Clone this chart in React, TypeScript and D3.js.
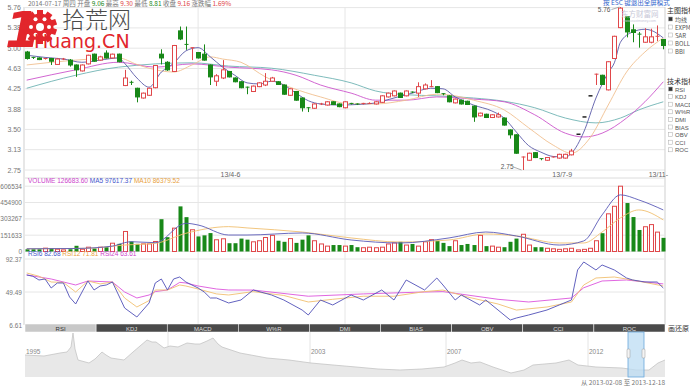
import React from "react";
import * as d3 from "d3";

// ---------- candle data (weekly) ----------
const OPEN = [4.93,4.83,4.82,4.80,4.81,4.70,4.79,4.78,4.69,4.58,4.71,4.89,4.78,4.91,4.82,4.89,4.31,4.37,4.26,4.08,4.13,4.27,4.89,4.74,4.57,5.32,5.07,5.00,4.92,4.89,4.69,4.39,4.45,4.57,4.45,4.38,4.28,4.20,4.29,4.32,4.39,4.38,4.32,4.13,4.20,4.08,3.90,3.89,3.96,3.95,4.01,3.97,3.90,3.98,3.97,3.97,3.97,3.97,4.00,4.10,4.12,4.17,4.12,4.19,4.17,4.25,4.28,4.29,4.16,4.12,3.99,4.04,4.02,3.93,3.75,3.78,3.72,3.73,3.71,3.49,3.40,2.98,2.93,3.07,2.96,2.93,2.98,2.97,2.97,3.03,3.41,3.73,4.12,4.52,4.50,4.23,4.81,5.38,5.58,5.34,5.26,5.11,5.11,5.21,5.16];
const CLOSE = [4.81,4.82,4.79,4.81,4.76,4.80,4.80,4.69,4.60,4.69,4.87,4.76,4.84,4.82,4.89,4.75,4.45,4.36,4.10,4.17,4.26,4.68,4.82,4.60,5.05,5.17,5.06,5.01,4.82,4.78,4.47,4.49,4.60,4.47,4.38,4.27,4.27,4.30,4.36,4.39,4.45,4.33,4.15,4.25,4.04,3.90,3.89,3.97,3.97,4.01,3.96,3.92,4.01,3.97,3.96,3.98,3.98,4.01,4.12,4.17,4.21,4.09,4.21,4.18,4.29,4.32,4.29,4.18,4.15,4.01,4.06,3.97,3.96,3.73,3.80,3.72,3.77,3.77,3.58,3.40,3.06,2.99,3.06,2.98,2.95,2.98,2.99,3.04,3.04,3.10,3.41,3.73,4.12,4.52,4.33,4.75,5.22,5.74,5.30,5.29,5.25,5.21,5.21,5.22,5.05];
const HIGH = [4.95,4.84,4.83,4.82,4.82,4.82,4.82,4.80,4.70,4.70,4.88,4.90,4.86,4.96,4.90,4.90,4.60,4.40,4.27,4.18,4.27,4.69,4.98,4.76,5.06,5.40,5.40,5.01,4.93,5.07,4.70,4.52,4.78,4.58,4.46,4.39,4.29,4.31,4.37,4.54,4.47,4.39,4.33,4.26,4.21,4.09,3.91,3.98,3.99,4.02,4.02,3.98,4.02,3.99,3.98,3.99,4.00,4.02,4.13,4.18,4.22,4.18,4.22,4.20,4.37,4.35,4.41,4.30,4.17,4.13,4.07,4.05,4.03,3.94,3.81,3.79,3.78,3.81,3.72,3.50,3.41,3.00,3.07,3.08,2.96,2.99,3.00,3.05,3.05,3.14,3.41,3.73,4.12,4.53,4.51,4.76,5.23,5.76,5.59,5.44,5.30,5.37,5.36,5.42,5.17];
const LOW = [4.79,4.80,4.78,4.79,4.69,4.69,4.78,4.66,4.47,4.57,4.70,4.75,4.77,4.81,4.81,4.74,4.30,4.32,4.00,4.07,4.12,4.26,4.70,4.58,4.56,5.15,4.97,4.78,4.81,4.77,4.32,4.30,4.43,4.46,4.37,4.26,4.15,4.19,4.28,4.30,4.38,4.32,4.14,4.12,4.03,3.83,3.82,3.88,3.95,3.94,3.95,3.91,3.89,3.96,3.95,3.96,3.97,3.96,3.99,4.09,4.11,4.08,4.11,4.17,4.10,4.24,4.28,4.17,4.13,4.00,3.98,3.96,3.95,3.64,3.74,3.71,3.71,3.72,3.57,3.33,3.05,2.75,2.92,2.97,2.93,2.92,2.98,2.96,2.96,3.02,3.41,3.73,4.12,4.32,4.32,4.22,4.80,5.37,5.20,5.11,5.01,5.10,5.09,5.13,4.98];
const VOLUME = [21000,21000,21000,31000,31000,21000,15000,21000,53000,21000,40000,28000,40000,40000,77000,71000,186000,93000,71000,71000,71000,93000,300000,133000,217000,419000,319000,202000,140000,150000,171000,109000,118000,77000,77000,120000,110000,90000,100000,130000,150000,100000,90000,120000,80000,110000,150000,100000,70000,50000,60000,60000,50000,60000,40000,35000,40000,35000,40000,70000,80000,90000,60000,70000,50000,90000,110000,100000,80000,50000,100000,60000,70000,60000,150000,50000,50000,40000,40000,90000,120000,160000,60000,40000,40000,30000,25000,20000,25000,30000,15000,20000,30000,100000,170000,350000,420000,606534,450000,320000,200000,230000,250000,180000,126683];

// ---------- moving averages: [week index, value] ----------
const MA5: [number, number][] = [[0,4.87],[3,4.83],[6,4.80],[9,4.74],[12,4.78],[15,4.82],[16,4.72],[18,4.45],[20,4.28],[22,4.56],[24,4.72],[26,4.95],[28,5.01],[30,4.84],[32,4.65],[34,4.50],[36,4.36],[38,4.34],[40,4.39],[42,4.32],[44,4.17],[46,4.03],[48,3.97],[51,3.95],[54,3.96],[57,3.99],[60,4.08],[63,4.17],[66,4.26],[68,4.25],[70,4.10],[73,3.95],[76,3.84],[78,3.71],[80,3.45],[82,3.20],[84,3.08],[86,3.00],[88,2.99],[89,3.06],[91,3.45],[93,4.08],[95,4.55],[96,4.73],[97,5.11],[99,5.30],[101,5.35],[102,5.33],[104,5.19]];
const MA10: [number, number][] = [[0,4.69],[8,4.78],[15,4.82],[18,4.70],[20,4.63],[24,4.56],[27,4.69],[30,4.84],[32,4.80],[35,4.74],[39,4.47],[43,4.28],[48,4.10],[53,3.97],[57,3.97],[62,4.04],[67,4.15],[70,4.12],[73,4.04],[78,3.86],[82,3.53],[86,3.21],[89,3.06],[92,3.34],[95,3.95],[98,4.56],[101,4.93],[104,5.19]];
const MA20: [number, number][] = [[0,4.41],[8,4.60],[15,4.74],[21,4.65],[27,4.71],[33,4.65],[40,4.60],[44,4.50],[48,4.32],[53,4.17],[57,4.04],[62,4.04],[67,4.10],[73,4.06],[78,4.01],[83,3.77],[88,3.43],[91,3.36],[94,3.43],[98,3.71],[101,4.01],[104,4.38]];
const MA60: [number, number][] = [[0,4.26],[8,4.50],[15,4.65],[27,4.73],[33,4.67],[40,4.63],[47,4.50],[53,4.36],[57,4.21],[62,4.14],[67,4.12],[73,4.08],[78,4.02],[83,3.90],[88,3.71],[93,3.62],[97,3.71],[100,3.86],[104,4.01]];

const VMA5: [number, number][] = [[0,25000],[8,28000],[14,50000],[16,82000],[17,91000],[21,82000],[26,262000],[28,246000],[33,153000],[36,153000],[45,172000],[53,107000],[61,79000],[69,126000],[75,181000],[80,144000],[87,60000],[91,98000],[94,340000],[97,526000],[100,479000],[104,386000]];
const VMA10: [number, number][] = [[0,25000],[10,30000],[16,60000],[21,76000],[26,169000],[33,231000],[36,219000],[45,181000],[53,126000],[61,88000],[69,107000],[75,163000],[80,144000],[87,79000],[91,79000],[94,181000],[97,312000],[100,386000],[104,293000]];

const RSI6: [number, number][] = [[0,71.6],[1,70],[2,65.1],[3,66.4],[4,54.7],[5,61.2],[6,61.2],[7,43],[8,33.9],[10,63.8],[11,52.1],[12,57.3],[13,58.6],[14,62.5],[15,45.6],[16,28.7],[18,17],[20,35.2],[21,61.2],[22,66.4],[23,52.1],[24,66.4],[25,69],[26,62.5],[28,54.7],[29,49.5],[30,41.7],[31,41.7],[33,35.2],[35,39.1],[37,52.1],[40,45.6],[42,39.1],[45,26.1],[46,19.6],[48,39.1],[50,32.6],[53,45.6],[55,39.1],[58,52.1],[60,39.1],[62,65.1],[65,52.1],[67,67.7],[68,58.6],[70,39.1],[71,45.6],[74,32.6],[75,39.1],[77,26.1],[79,13.1],[80,15.7],[82,19.6],[85,26.1],[87,32.6],[89,39.1],[90,78.1],[91,88.5],[93,78.1],[94,84.6],[96,78.1],[98,67.7],[99,65.1],[101,62.5],[103,62.5],[104,54.7]];
const RSI12: [number, number][] = [[0,74.2],[2,70],[4,62.5],[6,61.9],[8,49.5],[10,63.8],[12,60],[14,62.5],[16,41.7],[18,30],[20,38.4],[21,52.1],[23,52.1],[25,58.6],[26,57.3],[28,53.4],[31,47],[33,45.6],[37,50],[42,45],[46,36.5],[50,40],[55,44],[60,44],[65,50],[68,52],[72,43],[77,33.9],[80,26],[85,30],[89,36.5],[91,58.6],[93,67.7],[96,69],[99,65],[104,57.3]];
const RSI24: [number, number][] = [[0,71.6],[4,66.4],[8,58.6],[10,63.8],[14,62.5],[16,49.5],[18,41.7],[20,45.6],[21,50],[23,52.1],[25,62],[26,61.2],[28,57.3],[31,53.4],[33,52.1],[37,52],[46,44],[55,47],[65,49.5],[68,50],[77,40],[82,36.5],[89,41.7],[91,55],[94,63.8],[98,65.1],[104,60]];

// ---------- overview (long history) ----------
const OV_POS = [0,3.8,7,8.4,9.2,9.6,10,10.6,12.8,14,15.4,16.2,17.2,19.8,21.6,23,24.4,25.4,26.2,27.8,29,30.6,32.4,34,35,36.4,37.6,38.6,39.4,43,48.4,52.8,57.2,61.6,66.2,70.6,75,79.4,83.8,86,87.4,89.2,91,93.6,97.2,99.8,101.6,106.2,108.8,110.6,114.2,119.4,122.2,124.8,126.6,128];
const OV_VAL = [22,21,24,25,30,44,28,17,14,18,25,22,19,17,25,31,37,35,35,29,31,30,34,33,33,36,39,33,30,24,19,17,14,12,10,8,7,8,10,14,17,14,15,10,4,7,12,14,17,12,10,9,7,7,14,17];
const OV_YEARS = ["1995","1999","2003","2007","2012"];
const OV_YEAR_POS = [0,28.6,57,84.2,112.6];

const PRICE_TICKS = ["2.75","3.13","3.50","3.88","4.25","4.63","5.00","5.38","5.76"];
const VOL_TICKS = [0,151633,303267,454900,606534];
const RSI_TICKS = [6.61,49.49,92.37];
const DATE_LABELS = ["13/4-6","13/7-9","13/11-"];
const DATE_POS = [33.3,87.5,103.2];
const GRID_WEEKS = [28,52];
const TABS = ["RSI","KDJ","MACD","W%R","DMI","BIAS","OBV","CCI","ROC"];
const MAIN_IND = ["均线","EXPMA","SAR","BOLL","BBI"];
const TECH_IND = ["RSI","KDJ","MACD","W%R","DMI","BIAS","OBV","CCI","ROC"];

const RED = "#e0474a";
const GREEN = "#188818";
const FONT = "'Liberation Sans', Arial, sans-serif";
const CJK = "'Noto Sans CJK SC', sans-serif";

export default function App() {
  const L = 25, R = 665;
  const x = d3.scaleLinear().domain([0, 104]).range([26.7, 663.3]);
  const y = d3.scaleLinear().domain([2.75, 5.75]).range([170, 7.6]);
  const yv = d3.scaleLinear().domain([0, 606534]).range([251.5, 186.2]);
  const yr = d3.scaleLinear().domain([6.61, 92.37]).range([325, 259]);
  const xo = d3.scaleLinear().domain([0, 128]).range([L, R]);
  const yo = d3.scaleLinear().domain([0, 45]).range([377, 332]);

  const maLine = d3.line<[number, number]>().x(d => x(d[0])).y(d => y(d[1])).curve(d3.curveMonotoneX);
  const vLine = d3.line<[number, number]>().x(d => x(d[0])).y(d => yv(d[1])).curve(d3.curveMonotoneX);
  const rLine = d3.line<[number, number]>().x(d => x(d[0])).y(d => yr(d[1]));
  const ovData = OV_POS.map((p, i) => [p, OV_VAL[i]] as [number, number]);
  const ovArea = d3.area<[number, number]>().x(d => xo(d[0])).y0(377).y1(d => yo(d[1]));
  const ovLine = d3.line<[number, number]>().x(d => xo(d[0])).y(d => yo(d[1]));

  const bw = 4;
  const priceTickVals = PRICE_TICKS.map((_, i) => 2.75 + i * 0.375);
  const tabW = (R - L) / TABS.length;

  const candleColor = (i: number) => {
    if (OPEN[i] === CLOSE[i] && HIGH[i] === LOW[i]) return "#222";
    return CLOSE[i] >= OPEN[i] ? RED : GREEN;
  };

  const hi = 97, lo = 81;

  return (
    <svg width={690} height={387} style={{ position: "fixed", left: 0, top: 0, background: "#fff" }} fontFamily={FONT}>
      <rect x={0} y={0} width={690} height={387} fill="#fff" />
      {/* ---------- main panel grid ---------- */}
      {priceTickVals.map((v, i) => (
        <g key={"pg" + i}>
          <line x1={L} x2={R} y1={y(v)} y2={y(v)} stroke="#e6e6e6" />
          <text x={21} y={y(v) + 2.5} fontSize={7} fill="#777" textAnchor="end">{PRICE_TICKS[i]}</text>
        </g>
      ))}
      {GRID_WEEKS.map((g, i) => (
        <line key={"vg" + i} x1={x(g)} x2={x(g)} y1={7} y2={332} stroke="#e6e6e6" />
      ))}
      <line x1={L - 1} x2={L - 1} y1={7} y2={325} stroke="#cfcfcf" />
      <line x1={R} x2={R} y1={7} y2={325} stroke="#cfcfcf" />
      <line x1={L} x2={R} y1={178} y2={178} stroke="#dcdcdc" />
      {DATE_LABELS.map((d, i) => (
        <text key={"dl" + i} x={x(DATE_POS[i])} y={177} fontSize={7} fill="#666" textAnchor="middle">{d}</text>
      ))}

      {/* moving averages */}
      <path d={maLine(MA60) || ""} fill="none" stroke="#6fb3b3" strokeWidth={0.9} />
      <path d={maLine(MA20) || ""} fill="none" stroke="#cc55cc" strokeWidth={0.9} />
      <path d={maLine(MA10) || ""} fill="none" stroke="#f0c090" strokeWidth={0.9} />
      <path d={maLine(MA5) || ""} fill="none" stroke="#5a5aa8" strokeWidth={0.9} />

      {/* candles */}
      {OPEN.map((o, i) => {
        const c = CLOSE[i];
        const col = candleColor(i);
        const cx = Math.round(x(i)) + 0.5;
        const top = y(Math.max(o, c));
        const bot = y(Math.min(o, c));
        const up = c >= o;
        const h = Math.max(bot - top, 0);
        return (
          <g key={"c" + i}>
            <line x1={cx} x2={cx} y1={y(HIGH[i])} y2={y(LOW[i])} stroke={col} />
            {h < 1.2 ? (
              <line x1={cx - bw / 2} x2={cx + bw / 2} y1={top} y2={top} stroke={col} strokeWidth={col === "#222" ? 1.5 : 1} />
            ) : (
              <rect x={cx - bw / 2} y={top} width={bw} height={h} fill={up ? "#fff" : col} stroke={col} strokeWidth={1} />
            )}
          </g>
        );
      })}
      {/* high / low marks */}
      <line x1={x(hi) - 9} y1={y(HIGH[hi]) + 2.5} x2={x(hi) - 1} y2={y(HIGH[hi])} stroke="#777" strokeWidth={0.6} />
      <text x={x(hi) - 10} y={y(HIGH[hi]) + 5} fontSize={6.5} fill="#555" textAnchor="end">{HIGH[hi].toFixed(2)}</text>
      <line x1={x(lo) - 9} y1={y(LOW[lo]) - 3} x2={x(lo) - 1} y2={y(LOW[lo])} stroke="#777" strokeWidth={0.6} />
      <text x={x(lo) - 9} y={y(LOW[lo]) - 1.5} fontSize={6.5} fill="#555" textAnchor="end">{LOW[lo].toFixed(2)}</text>

      {/* ---------- volume panel ---------- */}
      <text x={28} y={183} fontSize={6.5}>
        <tspan fill="#cc44cc">VOLUME 126683.60 </tspan>
        <tspan fill="#4455cc">MA5 97617.37 </tspan>
        <tspan fill="#e8a040">MA10 86379.52</tspan>
      </text>
      {VOL_TICKS.map((v, i) => (
        <g key={"vg" + i}>
          <line x1={L} x2={R} y1={yv(v)} y2={yv(v)} stroke="#e6e6e6" />
          <text x={22} y={yv(v) + 2.5} fontSize={6.5} fill="#777" textAnchor="end">{String(v)}</text>
        </g>
      ))}
      {VOLUME.map((v, i) => {
        const col = candleColor(i) === "#222" ? RED : candleColor(i);
        const up = CLOSE[i] >= OPEN[i];
        const cx = Math.round(x(i)) + 0.5;
        const t = yv(v);
        return <rect key={"v" + i} x={cx - bw / 2} y={t} width={bw} height={Math.max(yv(0) - t, 0.5)} fill={up ? "#fff" : col} stroke={col} strokeWidth={up ? 1 : 0} />;
      })}
      <path d={vLine(VMA10) || ""} fill="none" stroke="#f0c070" strokeWidth={0.9} />
      <path d={vLine(VMA5) || ""} fill="none" stroke="#5a5ab8" strokeWidth={0.9} />

      {/* ---------- RSI panel ---------- */}
      <text x={28} y={256} fontSize={6.5}>
        <tspan fill="#4455cc">RSI6 82.68 </tspan>
        <tspan fill="#e8a040">RSI12 71.81 </tspan>
        <tspan fill="#cc44cc">RSI24 63.61</tspan>
      </text>
      {RSI_TICKS.map((v, i) => (
        <g key={"rg" + i}>
          <line x1={L} x2={R} y1={yr(v)} y2={yr(v)} stroke="#e6e6e6" />
          <text x={22} y={yr(v) + 2.5} fontSize={6.5} fill="#777" textAnchor="end">{v.toFixed(2)}</text>
        </g>
      ))}
      <path d={rLine(RSI24) || ""} fill="none" stroke="#dd55dd" strokeWidth={0.9} />
      <path d={rLine(RSI12) || ""} fill="none" stroke="#f0c070" strokeWidth={0.9} />
      <path d={rLine(RSI6) || ""} fill="none" stroke="#5050b8" strokeWidth={0.9} />

      {/* ---------- tabs ---------- */}
      {TABS.map((t, i) => (
        <g key={"t" + i}>
          <rect x={L + i * tabW} y={324} width={tabW} height={8} fill={i === 0 ? "#c8c8c8" : "#4a4a4a"} stroke="#fff" strokeWidth={0.5} />
          <text x={L + i * tabW + tabW / 2} y={330.5} fontSize={6} fill={i === 0 ? "#333" : "#ddd"} textAnchor="middle">{t}</text>
        </g>
      ))}
      <text x={668} y={331} fontSize={7} fill="#333" fontFamily={CJK}>画还原</text>

      {/* ---------- overview ---------- */}
      {OV_YEAR_POS.map((p, i) => (
        <g key={"oy" + i}>
          {i > 0 && <line x1={xo(p)} x2={xo(p)} y1={332} y2={377} stroke="#e4e4e4" />}
          <text x={xo(p) + 1} y={354} fontSize={6.5} fill="#888">{OV_YEARS[i]}</text>
        </g>
      ))}
      <path d={ovArea(ovData) || ""} fill="#e8e8e8" />
      <path d={ovLine(ovData) || ""} fill="none" stroke="#c4c4c4" strokeWidth={0.8} />
      <rect x={628} y={332} width={16} height={45} fill="#bcdcf3" fillOpacity={0.75} stroke="#6aa8dd" strokeWidth={0.8} />
      <rect x={627} y={349} width={3} height={9} rx={1} fill="#f4f4f4" stroke="#999" strokeWidth={0.5} />
      <rect x={642} y={349} width={3} height={9} rx={1} fill="#f4f4f4" stroke="#999" strokeWidth={0.5} />
      <text x={665} y={385} fontSize={6.5} fill="#777" textAnchor="end" fontFamily={CJK}>从 2013-02-08 至 2013-12-18</text>

      {/* ---------- right legend ---------- */}
      <text x={667} y={13} fontSize={7} fill="#333" fontFamily={CJK}>主图指标</text>
      {MAIN_IND.map((t, i) => (
        <g key={"mi" + i}>
          <rect x={668.5} y={17 + i * 8} width={4} height={4} fill={i === 0 ? "#333" : "#fff"} stroke="#aaa" strokeWidth={0.5} />
          <text x={675} y={21.5 + i * 8} fontSize={6} fill="#555" fontFamily={CJK}>{t}</text>
        </g>
      ))}
      <text x={667} y={84} fontSize={7} fill="#333" fontFamily={CJK}>技术指标</text>
      {TECH_IND.map((t, i) => (
        <g key={"ti" + i}>
          <rect x={668.5} y={87 + i * 7.6} width={4} height={4} fill={i === 0 ? "#333" : "#fff"} stroke="#aaa" strokeWidth={0.5} />
          <text x={675} y={91.5 + i * 7.6} fontSize={6} fill="#555">{t}</text>
        </g>
      ))}

      {/* ---------- header info ---------- */}
      <text x={28} y={5.5} fontSize={6.5} fill="#777" fontFamily={CJK}>
        <tspan>2014-07-17 周四 开盘 </tspan>
        <tspan fill={GREEN}>9.06</tspan>
        <tspan> 最高 </tspan>
        <tspan fill={RED}>9.30</tspan>
        <tspan> 最低 </tspan>
        <tspan fill={GREEN}>8.81</tspan>
        <tspan> 收盘 </tspan>
        <tspan fill={RED}>9.16</tspan>
        <tspan> 涨跌幅 </tspan>
        <tspan fill={RED}>1.69%</tspan>
      </text>
      <text x={603} y={5} fontSize={6.5} fill="#3366cc" fontFamily={CJK}>按 ESC 键退出全屏模式</text>
      <text x={621} y={17} fontSize={7.5} fill="#c8c8d8" fontFamily={CJK}>东方财富网</text>
      <text x={623} y={22} fontSize={3.5} fill="#c8c8d8">www.eastmoney.com</text>

      {/* ---------- watermark logo ---------- */}
      <g>
        <text x={5} y={47} fontSize={50} fontWeight="bold" fontStyle="italic" fill="#e2262c" fontFamily="'DejaVu Sans', sans-serif">1</text>
        <g transform="translate(40,27)">
          {d3.range(10).map(k => {
            const a = (k / 10) * Math.PI * 2;
            return <rect key={"tooth" + k} x={-3} y={-17} width={6} height={6} fill="#e2262c" transform={`rotate(${(a * 180) / Math.PI})`} />;
          })}
          <circle r={13.5} fill="#e2262c" />
          <circle r={4} fill="#fff" />
          {d3.range(6).map(k => {
            const a = (k / 6) * Math.PI * 2;
            return <circle key={"hole" + k} cx={Math.cos(a) * 9} cy={Math.sin(a) * 9} r={2} fill="#fff" />;
          })}
        </g>
        <text x={62} y={28} fontSize={23} fill="#4a4a4a" fontFamily={CJK} fontWeight={300}>拾荒网</text>
        <text x={34} y={47.5} fontSize={19} fill="#e2262c" fontFamily="'DejaVu Sans', sans-serif">Huang.CN</text>
      </g>
    </svg>
  );
}
